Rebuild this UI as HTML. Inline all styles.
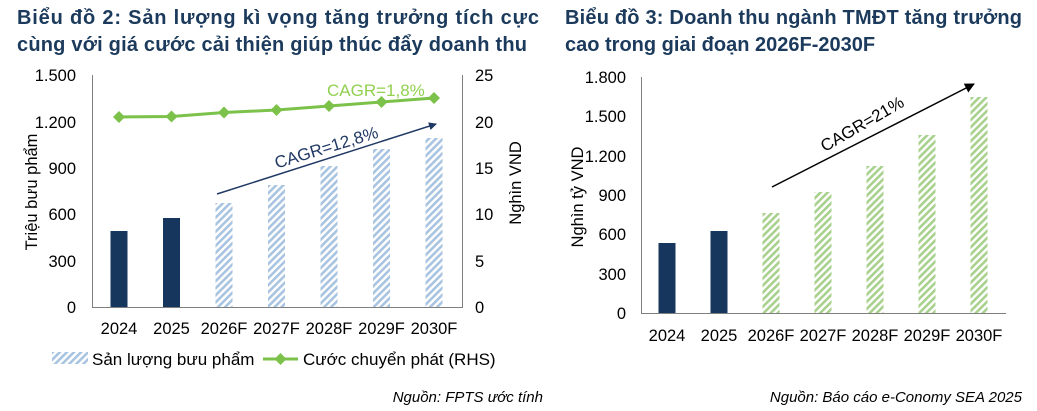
<!DOCTYPE html>
<html><head><meta charset="utf-8"><style>
html,body{margin:0;padding:0;background:#fff;}
svg{display:block;font-family:"Liberation Sans",Arial,sans-serif;}
</style></head><body>
<svg width="1037" height="411" viewBox="0 0 1037 411" xmlns="http://www.w3.org/2000/svg">
<defs>
<pattern id="hb" width="5" height="5" patternUnits="userSpaceOnUse" patternTransform="rotate(45)">
<rect width="5" height="5" fill="#fff"/><rect width="2.6" height="5" fill="#a9c4e0"/></pattern>
<pattern id="hg" width="5" height="5" patternUnits="userSpaceOnUse" patternTransform="rotate(45)">
<rect width="5" height="5" fill="#fff"/><rect width="2.6" height="5" fill="#a9d18e"/></pattern>
<marker id="ah" markerWidth="8" markerHeight="8" refX="7" refY="4" orient="auto" markerUnits="userSpaceOnUse">
<path d="M0,0 L8,4 L0,8 z" fill="#1f3864"/></marker>
<marker id="ak" markerWidth="10" markerHeight="10" refX="9" refY="5" orient="auto" markerUnits="userSpaceOnUse">
<path d="M0,0 L10,5 L0,10 z" fill="#000"/></marker>
</defs>
<!-- Titles -->
<g font-weight="bold" font-size="20" fill="#1b3a5c">
<text x="17" y="24" textLength="522" lengthAdjust="spacing">Biểu đồ 2: Sản lượng kì vọng tăng trưởng tích cực</text>
<text x="17" y="51" textLength="510" lengthAdjust="spacing">cùng với giá cước cải thiện giúp thúc đẩy doanh thu</text>
<text x="565" y="24" textLength="457" lengthAdjust="spacing">Biểu đồ 3: Doanh thu ngành TMĐT  tăng trưởng</text>
<text x="565" y="51">cao trong giai đoạn 2026F-2030F</text>
</g>

<!-- Chart 1 -->
<g font-size="16.5" fill="#000">
<g text-anchor="end">
<text x="76" y="81">1.500</text><text x="76" y="128">1.200</text><text x="76" y="174">900</text>
<text x="76" y="220">600</text><text x="76" y="267">300</text><text x="76" y="313">0</text>
</g>
<g text-anchor="start">
<text x="475" y="81">25</text><text x="475" y="128">20</text><text x="475" y="174">15</text>
<text x="475" y="220">10</text><text x="475" y="267">5</text><text x="475" y="313">0</text>
</g>
<text transform="translate(37,192) rotate(-90)" text-anchor="middle">Triệu bưu phẩm</text>
<text transform="translate(521,183) rotate(-90)" text-anchor="middle">Nghìn VND</text>
<g text-anchor="middle">
<text x="119" y="334">2024</text><text x="171.5" y="334">2025</text><text x="224" y="334">2026F</text>
<text x="276.5" y="334">2027F</text><text x="329" y="334">2028F</text><text x="381.5" y="334">2029F</text><text x="434" y="334">2030F</text>
</g>
</g>
<rect x="110.5" y="231" width="17" height="76" fill="#17365d"/>
<rect x="163" y="218" width="17" height="89" fill="#17365d"/>
<rect x="215.5" y="203" width="17" height="104" fill="url(#hb)"/>
<rect x="268" y="185" width="17" height="122" fill="url(#hb)"/>
<rect x="320.5" y="166" width="17" height="141" fill="url(#hb)"/>
<rect x="373" y="149" width="17" height="158" fill="url(#hb)"/>
<rect x="425.5" y="138" width="17" height="169" fill="url(#hb)"/>
<path d="M92.5,75 V307.5 H462.5 V75" fill="none" stroke="#7f7f7f" stroke-width="1"/>
<polyline points="119,117 171.5,116.5 224,112.5 276.5,110 329,106 381.5,102 434,98" fill="none" stroke="#7cc24a" stroke-width="3"/>
<g fill="#7cc24a">
<path d="M119,111 l6,6 l-6,6 l-6,-6z"/><path d="M171.5,110.5 l6,6 l-6,6 l-6,-6z"/><path d="M224,106.5 l6,6 l-6,6 l-6,-6z"/>
<path d="M276.5,104 l6,6 l-6,6 l-6,-6z"/><path d="M329,100 l6,6 l-6,6 l-6,-6z"/><path d="M381.5,96 l6,6 l-6,6 l-6,-6z"/><path d="M434,92 l6,6 l-6,6 l-6,-6z"/>
</g>
<text x="327" y="96" font-size="17" fill="#92d050">CAGR=1,8%</text>
<line x1="217" y1="194" x2="436" y2="124" stroke="#1f3864" stroke-width="1.5" marker-end="url(#ah)"/>
<text transform="translate(328,153) rotate(-17)" text-anchor="middle" font-size="17" fill="#1f3864">CAGR=12,8%</text>
<!-- legend -->
<rect x="52" y="352" width="36" height="12" fill="url(#hb)"/>
<text x="92" y="365" font-size="17">Sản lượng bưu phẩm</text>
<line x1="263" y1="359" x2="298" y2="359" stroke="#7cc24a" stroke-width="3"/>
<path d="M280.5,353 l6,6 l-6,6 l-6,-6z" fill="#7cc24a"/>
<text x="303" y="365" font-size="17">Cước chuyển phát (RHS)</text>
<text x="543" y="402" font-size="15" font-style="italic" text-anchor="end">Nguồn: FPTS ước tính</text>

<!-- Chart 2 -->
<g font-size="16.5" fill="#000">
<g text-anchor="end">
<text x="626" y="83">1.800</text><text x="626" y="122">1.500</text><text x="626" y="162">1.200</text>
<text x="626" y="201">900</text><text x="626" y="240">600</text><text x="626" y="280">300</text><text x="626" y="319">0</text>
</g>
<text transform="translate(583,197) rotate(-90)" text-anchor="middle">Nghìn tỷ VND</text>
<g text-anchor="middle">
<text x="667" y="341">2024</text><text x="719" y="341">2025</text><text x="771" y="341">2026F</text>
<text x="823" y="341">2027F</text><text x="875" y="341">2028F</text><text x="927" y="341">2029F</text><text x="979" y="341">2030F</text>
</g>
</g>
<rect x="658.5" y="243" width="17" height="70" fill="#17365d"/>
<rect x="710.5" y="231" width="17" height="82" fill="#17365d"/>
<rect x="762.5" y="213" width="17" height="100" fill="url(#hg)"/>
<rect x="814.5" y="192" width="17" height="121" fill="url(#hg)"/>
<rect x="866.5" y="166" width="17" height="147" fill="url(#hg)"/>
<rect x="918.5" y="135" width="17" height="178" fill="url(#hg)"/>
<rect x="970.5" y="97" width="17" height="216" fill="url(#hg)"/>
<path d="M641.5,77 V313.5 H1006" fill="none" stroke="#7f7f7f" stroke-width="1"/>
<line x1="772" y1="187" x2="974" y2="84" stroke="#000" stroke-width="1.5" marker-end="url(#ak)"/>
<text transform="translate(865,129) rotate(-30)" text-anchor="middle" font-size="17" fill="#000">CAGR=21%</text>
<text x="1022" y="402" font-size="15" font-style="italic" text-anchor="end">Nguồn: Báo cáo e-Conomy SEA 2025</text>
</svg>
</body></html>
